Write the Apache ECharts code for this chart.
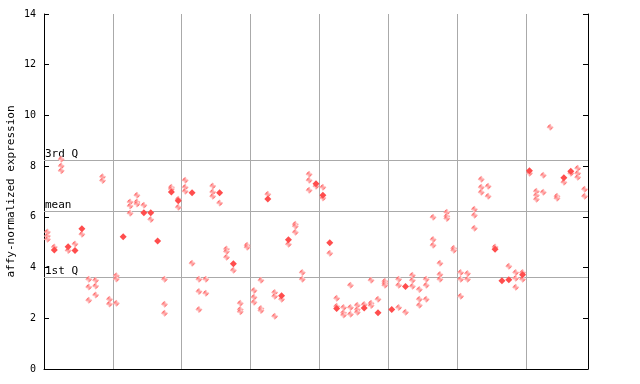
<!DOCTYPE html>
<html><head><meta charset="utf-8">
<script src="https://cdn.jsdelivr.net/npm/echarts@6/dist/echarts.min.js"></script>
<style>html,body{margin:0;padding:0;background:#fff}#c{width:640px;height:384px}</style>
</head><body><div id="c"></div>
<script>
// y-axis ticks
const yMin = 0, yMax = 14, yStep = 2;
// reference lines
const refNames = ['3rd Q', 'mean', '1st Q'];
const refValues = [8.24, 6.23, 3.63];
// samples per tissue group (vertical separators)
const groupSize = 10;
// hatched (outlined) diamonds, one list per sample
const hatched = [
  [5.40,5.25,5.12],[4.81],[8.27,8.01,7.82],[4.67],[4.93],[5.31],[3.54,3.23,2.71],[3.50,3.27,2.92],[7.58,7.43],[2.75,2.56],
  [3.68,3.55,2.59],[],[6.59,6.43,6.14],[6.85,6.59,6.51],[6.46],[5.90],[],[3.54,2.55,2.20],[7.17,7.10],[6.69,6.38],
  [7.44,7.17,7.01],[4.17],[3.54,3.06,2.35],[3.54,2.99],[7.22,6.98,6.81],[6.55],[4.73,4.63,4.41],[3.89],[2.59,2.35,2.26],[4.88,4.80],
  [3.10,2.83,2.63],[3.50,2.39,2.31],[6.89],[3.02,2.87,2.08],[2.75],[4.92],[5.71,5.63,5.39],[3.81,3.54],[7.68,7.44,7.05],[7.21],
  [7.17,6.74],[4.56],[2.79,2.47],[2.43,2.22,2.13],[3.30,2.43,2.16],[2.51,2.35,2.24],[2.54],[3.50,2.59,2.50],[2.75],[3.46,3.38,3.30],
  [],[3.54,3.30,2.43],[2.24],[3.70,3.50,3.26],[3.14,2.75,2.51],[3.54,3.30,2.75],[5.98,5.11,4.88],[4.17,3.73,3.54],[6.18,6.02,5.94],[4.76,4.68],
  [3.81,3.54,2.87],[3.77,3.54],[6.30,6.06,5.55],[7.48,7.17,6.97],[7.21,6.81],[4.81],[],[4.05],[3.81,3.58,3.22],[3.81,3.54],
  [7.72],[7.01,6.85,6.69],[7.64,6.97],[9.53],[6.81,6.73],[7.36],[7.72],[7.92,7.72,7.56],[7.09,6.81]
];
// filled diamonds, one list per sample
const filled = [
  [],[4.69],[],[4.82],[4.67],[5.53],[],[],[],[],
  [],[5.22],[],[],[6.16],[6.16],[5.05],[],[6.98],[6.64],
  [],[6.95],[],[],[],[6.95],[],[4.15],[],[],
  [],[],[6.70],[],[2.89],[5.10],[],[],[],[7.31],
  [6.85],[4.98],[2.39],[],[],[],[2.41],[],[2.22],[],
  [2.35],[],[3.25],[],[],[],[],[],[],[],
  [],[],[],[],[],[4.72],[3.48],[3.52],[],[3.72],
  [7.82],[],[],[],[],[7.54],[7.80],[],[]
];
const categories = hatched.map((_, i) => String(i + 1));

function toPoints(lists) {
  const out = [];
  lists.forEach((vals, i) => vals.forEach(v => out.push([i, v])));
  return out;
}

// checkerboard pattern for hatched diamonds
const pc = document.createElement('canvas');
pc.width = 2; pc.height = 2;
const pctx = pc.getContext('2d');
pctx.fillStyle = '#ffffff'; pctx.fillRect(0, 0, 2, 2);
pctx.fillStyle = '#ff4d4d'; pctx.fillRect(0, 0, 1, 1); pctx.fillRect(1, 1, 1, 1);

const mono = 'DejaVu Sans Mono';
const chart = echarts.init(document.getElementById('c'), null, {renderer: 'canvas'});
chart.setOption({
  animation: false,
  backgroundColor: '#ffffff',
  grid: {left: 44, right: 52, top: 14, bottom: 15, containLabel: false, outerBoundsMode: 'none'},
  xAxis: {
    type: 'category', data: categories, boundaryGap: true,
    axisLine: {show: true, lineStyle: {color: '#000', width: 1}},
    axisTick: {show: false}, axisLabel: {show: false},
    splitLine: {show: true, interval: groupSize - 1, lineStyle: {color: '#aaaaaa', width: 1}}
  },
  yAxis: [{
    type: 'value', min: yMin, max: yMax, interval: yStep,
    name: 'affy-normalized expression', nameLocation: 'middle', nameGap: 27,
    nameMoveOverlap: false,
    nameTextStyle: {fontFamily: mono, fontSize: 11, color: '#000'},
    axisLine: {show: true, lineStyle: {color: '#000'}},
    axisTick: {show: true, inside: true, length: 5, lineStyle: {color: '#000'}},
    axisLabel: {fontFamily: mono, fontSize: 10, color: '#000', margin: 8},
    splitLine: {show: false}
  }, {
    type: 'value', min: yMin, max: yMax, interval: yStep, position: 'right',
    axisLine: {show: true, lineStyle: {color: '#000'}},
    axisTick: {show: true, inside: true, length: 5, lineStyle: {color: '#000'}},
    axisLabel: {show: false}, splitLine: {show: false}
  }],
  series: [{
    type: 'scatter', symbol: 'diamond', symbolSize: 7, z: 3,
    itemStyle: {color: {image: pc, repeat: 'repeat'}, opacity: 1},
    data: toPoints(hatched),
    markLine: {
      silent: true, symbol: ['none', 'none'], animation: false, z: 1,
      lineStyle: {color: '#aaaaaa', width: 1, type: 'solid'},
      label: {show: true, position: 'insideStartTop', distance: [1, 0],
        fontFamily: mono, fontSize: 11, color: '#000',
        formatter: p => p.name},
      data: refValues.map((v, i) => ({name: refNames[i], yAxis: v}))
    }
  }, {
    type: 'scatter', symbol: 'diamond', symbolSize: 7, z: 4,
    itemStyle: {color: '#ff4d4d', opacity: 1},
    data: toPoints(filled)
  }]
});
</script>
</body></html>
